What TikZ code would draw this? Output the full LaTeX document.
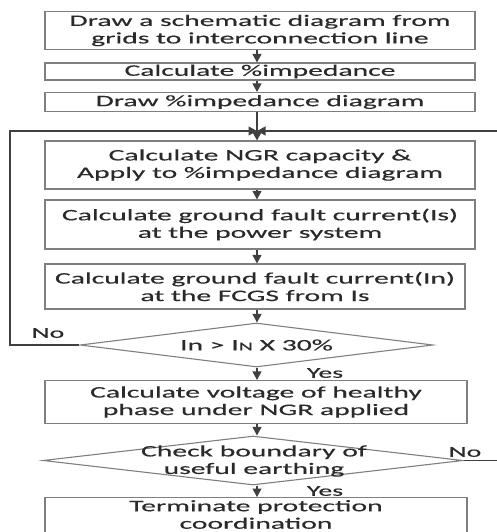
\documentclass[tikz,border=0pt]{standalone}
\usepackage{fontspec}
\setmainfont{Carlito}[FakeStretch=1.85,FakeBold=0.4]
\usetikzlibrary{shapes.geometric,arrows.meta}
\definecolor{boxgray}{HTML}{7F7F7F}
\definecolor{arrgray}{HTML}{404040}
\definecolor{txtgray}{HTML}{2A2A2A}
\tikzset{
  box/.style={draw=boxgray, line width=1.1pt, inner sep=0pt, align=center,
    text=txtgray, font=\fontsize{16}{17.5}\selectfont},
  dia/.style={draw=boxgray, line width=1.1pt, shape=diamond, inner sep=0pt, aspect=8},
  txt/.style={inner sep=0pt, align=center, text=txtgray, font=\fontsize{16}{17.5}\selectfont},
  lbl/.style={inner sep=0pt, text=txtgray, font=\fontsize{15}{16}\selectfont},
  arr/.style={draw=arrgray, line width=1.1pt, -{Triangle[length=8.5pt,width=9pt]}},
}
\begin{document}
\begin{tikzpicture}[x=1pt,y=-1pt]
\useasboundingbox (0,0) rectangle (497,532);
\clip (0,0) rectangle (497,532);
% column of arrows
\coordinate (col) at (257,0);
\node[box, minimum width=430, minimum height=38] (b1) at (260,30.5) {Draw a schematic diagram from\\grids to interconnection line};
\node[box, minimum width=430, minimum height=17] (b2) at (260,71.5) {Calculate \%impedance};
\node[box, minimum width=430, minimum height=19] (b3) at (260,102) {Draw \%impedance diagram};
\coordinate (m) at (257,131);
\node[box, minimum width=430, minimum height=48] (b4) at (260,165) {Calculate NGR capacity \&\\Apply to \%impedance diagram};
\node[box, minimum width=430, minimum height=49] (b5) at (260,224.5) {Calculate ground fault current(Is)\\at the power system};
\node[box, minimum width=420, minimum height=45] (b6) at (255,286.5) {Calculate ground fault current(In)\\at the FCGS from Is};
\node[dia, minimum width=353, minimum height=44] (d1) at (256.5,345) {};
\node[txt] (t1) at (d1.center) {In > I{\fontsize{12}{12}\selectfont N} X 30\%};
\node[box, minimum width=422, minimum height=43] (b7) at (256,402) {Calculate voltage of healthy\\phase under NGR applied};
\node[dia, minimum width=420, minimum height=49] (d2) at (253,460.5) {};
\node[txt] (t2) at (254,461) {Check boundary of\\useful earthing};
\node[box, minimum width=422, minimum height=44, anchor=north] (b8) at (256,497) {};
\node[txt] (t8) at (256,514.5) {Terminate protection\\coordination};
% labels
\node[lbl] (no1) at (48,333) {No};
\node[lbl] (yes1) at (325,373) {Yes};
\node[lbl] (no2) at (465,452) {No};
\node[lbl] (yes2) at (325,491) {Yes};
% arrows
\draw[arr] (b1.south -| col) -- (b2.north -| col);
\draw[arr] (b2.south -| col) -- (b3.north -| col);
\draw[arr] (b3.south -| col) -- (b4.north -| col);
\draw[arr] (b4.south -| col) -- (b5.north -| col);
\draw[arr] (b5.south -| col) -- (b6.north -| col);
\draw[arr] (b6.south -| col) -- (d1.north -| col);
\draw[arr] (d1.south -| col) -- (b7.north -| col);
\draw[arr] (b7.south -| col) -- (d2.north -| col);
\draw[arr] (d2.south -| col) -- (b8.north -| col);
% loops
\draw[arr] (d1.west) -- (10,345) -- (10,131) -- (m);
\draw[arr] (d2.east) -- (510,460.5) -- (510,131) -- (m);
\end{tikzpicture}
\end{document}
